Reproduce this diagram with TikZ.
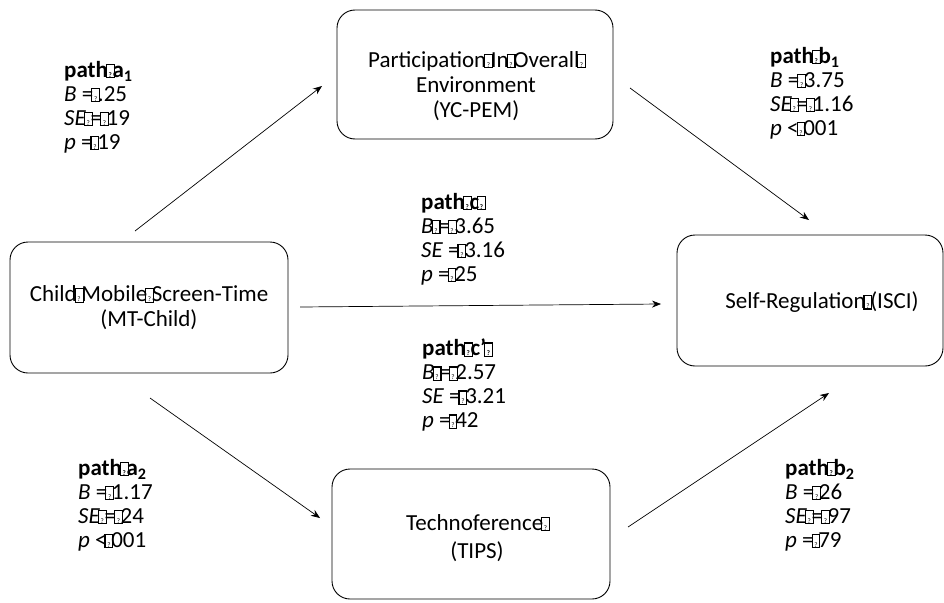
\documentclass[tikz,border=0pt]{standalone}
\usepackage{fontspec}
\setmainfont{Carlito}
\usetikzlibrary{arrows.meta}

% placeholder box for a character the font could not show
\newcommand\nog{\makebox[0.2em][c]{\raisebox{0.0em}{\setlength\fboxsep{0pt}\setlength\fboxrule{0.045em}\fbox{\makebox[0.3em][c]{\rule{0pt}{0.54em}\fontsize{7}{7}\selectfont ?}}}}}

\tikzset{
  box/.style={draw, line width=0.9pt, rounded corners=18pt},
  boxtext/.style={align=center, inner sep=0pt, font=\fontsize{23}{25}\selectfont},
  stats/.style={anchor=north west, align=left, inner sep=0pt,
    font=\fontsize{23}{24}\selectfont},
  link/.style={line width=0.7pt, -{Stealth[length=9pt,width=7pt]}},
}

\begin{document}
\begin{tikzpicture}[x=1pt, y=-1pt]
\useasboundingbox (0,0) rectangle (944,602);

% construct boxes
\draw[box] (10,242) rectangle (288,373);
\node[boxtext] (mt) at (149,308)
  {Child\nog Mobile\nog Screen-Time\\(MT-Child)};

\draw[box] (337,10) rectangle (613,139);
\node[boxtext] (pem) at (476,86)
  {Participation\nog In\nog Overall\nog\\Environment\\(YC-PEM)};

\draw[box] (677,235) rectangle (943,366);
\node[boxtext] (isci) at (822,302) {Self-Regulation\nog(ISCI)};

\draw[box] (332,469) rectangle (610,599);
\node[boxtext, font=\fontsize{23}{28}\selectfont] (tips) at (477,538)
  {Technoference\nog\\(TIPS)};

% path arrows
\coordinate (a1s) at (135,231);  \coordinate (a1e) at (322,86);
\coordinate (b1s) at (630,88);   \coordinate (b1e) at (809,220);
\coordinate (cs)  at (300,307);  \coordinate (ce)  at (661,304);
\coordinate (a2s) at (150,398);  \coordinate (a2e) at (320,518);
\coordinate (b2s) at (628,527);  \coordinate (b2e) at (829,393);
\draw[link] (a1s) -- (a1e);
\draw[link] (b1s) -- (b1e);
\draw[link] (cs) -- (ce);
\draw[link] (a2s) -- (a2e);
\draw[link] (b2s) -- (b2e);

% path coefficients
\node[stats] (ta1) at (64,61) {\textbf{path\nog a\textsubscript{1}}\\
  \textit{B} =\nog.25\\\textit{SE}\nog=\nog19\\\textit{p} =\nog19};
\node[stats] (tb1) at (770,47) {\textbf{path\nog b\textsubscript{1}}\\
  \textit{B} =\nog3.75\\\textit{SE}\nog=\nog1.16\\\textit{p} <\nog001};
\node[stats] (tc) at (421,193) {\textbf{path\nog c\nog}\\
  \textit{B}\nog=\nog3.65\\\textit{SE} =\nog3.16\\\textit{p} =\nog25};
\node[stats] (tcp) at (422,339) {\textbf{path\nog c'\nog}\\
  \textit{B}\nog=\nog2.57\\\textit{SE} =\nog3.21\\\textit{p} =\nog42};
\node[stats] (ta2) at (78,459) {\textbf{path\nog a\textsubscript{2}}\\
  \textit{B} =\nog1.17\\\textit{SE}\nog=\nog24\\\textit{p} <\nog001};
\node[stats] (tb2) at (785,459) {\textbf{path\nog b\textsubscript{2}}\\
  \textit{B} =\nog26\\\textit{SE}\nog=\nog97\\\textit{p} =\nog79};
\end{tikzpicture}
\end{document}
